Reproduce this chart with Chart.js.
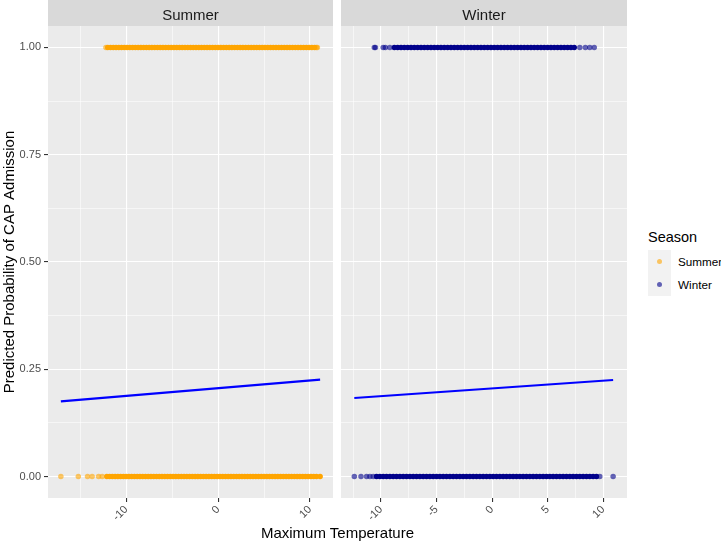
<!DOCTYPE html>
<html>
<head>
<meta charset="utf-8">
<script src="https://cdn.jsdelivr.net/npm/chart.js@4.4.1/dist/chart.umd.min.js"></script>
<style>
    body { margin: 0; background: #fff; font-family: "Liberation Sans", Arial, sans-serif; }
    #wrap { position: relative; width: 721px; height: 543px; overflow: hidden; }
    #wrap canvas { position: absolute; top: 0; }
    #summerChart { left: 0; }
    #winterChart { left: 337px; }
    #xTitle { position: absolute; left: 48px; width: 579px; top: 525px; line-height: 15px; font-size: 15px; text-align: center; color: #000; }
    #legend { position: absolute; left: 648px; top: 229px; color: #000; }
    #legend .title { font-size: 14.5px; line-height: 16px; }
    #legend .keys { position: absolute; left: 0; top: 21px; width: 23px; height: 46px; background: #F2F2F2; }
    #legend .dot { position: absolute; left: 9px; width: 5px; height: 5px; border-radius: 50%; }
    #legend .lab { position: absolute; left: 30px; font-size: 11.7px; line-height: 12px; white-space: nowrap; }
</style>
</head>
<body>
<div id="wrap">
    <canvas id="summerChart" width="338" height="543"></canvas>
    <canvas id="winterChart" width="295" height="543"></canvas>
    <div id="xTitle">Maximum Temperature</div>
    <div id="legend">
        <div class="title">Season</div>
        <div class="keys">
            <div class="dot" style="top:9px;background:rgba(255,165,0,0.6)"></div>
            <div class="dot" style="top:32px;background:rgba(0,0,139,0.6)"></div>
        </div>
        <div class="lab" style="top:27px">Summer</div>
        <div class="lab" style="top:50px">Winter</div>
    </div>
</div>
<script>
// tick positions
var yMajor = [0, 0.25, 0.5, 0.75, 1];
var yMinor = [0.125, 0.375, 0.625, 0.875];
var summerMajor = [-10, 0, 10];
var summerMinor = [-15, -5, 5];
var winterMajor = [-10, -5, 0, 5, 10];
var winterMinor = [-12.5, -7.5, -2.5, 2.5, 7.5];

// Summer: max temperature of observations, no admission (0) / admission (1)
var summerNoSparse = [-17.1, -15.2, -14.2, -13.7, -13.0, -12.6];
var summerNoDense = [-12.1, -11.8, -11.5, -11.2, -10.9, -10.6, -10.3, -10.0, -9.7, -9.4, -9.1, -8.8, -8.5, -8.2, -7.9, -7.6, -7.3, -7.0, -6.7, -6.4, -6.1, -5.8, -5.5, -5.2, -4.9, -4.6, -4.3, -4.0, -3.7, -3.4, -3.1, -2.8, -2.5, -2.2, -1.9, -1.6, -1.3, -1.0, -0.7, -0.4, -0.1, 0.2, 0.5, 0.8, 1.1, 1.4, 1.7, 2.0, 2.3, 2.6, 2.9, 3.2, 3.5, 3.8, 4.1, 4.4, 4.7, 5.0, 5.3, 5.6, 5.9, 6.2, 6.5, 6.8, 7.1, 7.4, 7.7, 8.0, 8.3, 8.6, 8.9, 9.2, 9.5, 9.8, 10.1, 10.4, 10.7, 11.1];
var summerYesSparse = [-12.2, 10.7, 10.8];
var summerYesDense = [-12.0, -11.7, -11.4, -11.1, -10.8, -10.5, -10.2, -9.9, -9.6, -9.3, -9.0, -8.7, -8.4, -8.1, -7.8, -7.5, -7.2, -6.9, -6.6, -6.3, -6.0, -5.7, -5.4, -5.1, -4.8, -4.5, -4.2, -3.9, -3.6, -3.3, -3.0, -2.7, -2.4, -2.1, -1.8, -1.5, -1.2, -0.9, -0.6, -0.3, 0.0, 0.3, 0.6, 0.9, 1.2, 1.5, 1.8, 2.1, 2.4, 2.7, 3.0, 3.3, 3.6, 3.9, 4.2, 4.5, 4.8, 5.1, 5.4, 5.7, 6.0, 6.3, 6.6, 6.9, 7.2, 7.5, 7.8, 8.1, 8.4, 8.7, 9.0, 9.3, 9.6, 9.9, 10.2, 10.5];
var summerFitX = [-17.1, 11.1];
var summerFitY = [0.175, 0.226];

// Winter
var winterNoSparse = [-12.4, -11.8, -11.3, -11.0, -10.7, 9.7, 10.9];
var winterNoDense = [-10.4, -10.1, -9.8, -9.5, -9.2, -8.9, -8.6, -8.3, -8.0, -7.7, -7.4, -7.1, -6.8, -6.5, -6.2, -5.9, -5.6, -5.3, -5.0, -4.7, -4.4, -4.1, -3.8, -3.5, -3.2, -2.9, -2.6, -2.3, -2.0, -1.7, -1.4, -1.1, -0.8, -0.5, -0.2, 0.1, 0.4, 0.7, 1.0, 1.3, 1.6, 1.9, 2.2, 2.5, 2.8, 3.1, 3.4, 3.7, 4.0, 4.3, 4.6, 4.9, 5.2, 5.5, 5.8, 6.1, 6.4, 6.7, 7.0, 7.3, 7.6, 7.9, 8.2, 8.5, 8.8, 9.1, 9.4];
var winterYesSparse = [-10.6, -10.5, -9.8, -9.6, -9.2, 7.9, 8.4, 8.8, 9.2];
var winterYesDense = [-8.8, -8.5, -8.2, -7.9, -7.6, -7.3, -7.0, -6.7, -6.4, -6.1, -5.8, -5.5, -5.2, -4.9, -4.6, -4.3, -4.0, -3.7, -3.4, -3.1, -2.8, -2.5, -2.2, -1.9, -1.6, -1.3, -1.0, -0.7, -0.4, -0.1, 0.2, 0.5, 0.8, 1.1, 1.4, 1.7, 2.0, 2.3, 2.6, 2.9, 3.2, 3.5, 3.8, 4.1, 4.4, 4.7, 5.0, 5.3, 5.6, 5.9, 6.2, 6.5, 6.8, 7.1, 7.4];
var winterFitX = [-12.4, 10.9];
var winterFitY = [0.183, 0.225];

var FONT = '"Liberation Sans", Arial, sans-serif';

function pts(xs, y) {
    return xs.map(function (x) { return { x: x, y: y }; });
}
function fitPts(xs, ys) {
    return xs.map(function (x, i) { return { x: x, y: ys[i] }; });
}

// panel background + facet strip
var panelPlugin = {
    id: 'panel',
    beforeDraw: function (chart, args, opts) {
        var ctx = chart.ctx, a = chart.chartArea;
        ctx.save();
        ctx.fillStyle = '#EBEBEB';
        ctx.fillRect(a.left, a.top, a.right - a.left, a.bottom - a.top);
        ctx.fillStyle = '#D9D9D9';
        ctx.fillRect(a.left, 0, a.right - a.left, a.top);
        ctx.fillStyle = '#1A1A1A';
        ctx.font = '15px ' + FONT;
        ctx.textAlign = 'center';
        ctx.textBaseline = 'alphabetic';
        ctx.fillText(opts.title, (a.left + a.right) / 2, 19.5);
        ctx.restore();
    }
};

function gridOpts(major, withTicks) {
    return {
        color: '#FFFFFF',
        lineWidth: function (c) { return c.tick && major.indexOf(c.tick.value) >= 0 ? 1.1 : 0.55; },
        drawTicks: withTicks,
        tickLength: withTicks ? 4 : 0,
        tickWidth: 1.1,
        tickColor: function (c) { return c.tick && major.indexOf(c.tick.value) >= 0 ? '#333333' : 'rgba(0,0,0,0)'; }
    };
}

function setTicks(major, minor) {
    return function (scale) {
        scale.ticks = major.concat(minor).sort(function (a, b) { return a - b; })
            .map(function (v) { return { value: v }; });
    };
}

function makeChart(id, title, color, sets, xMin, xMax, xMajor, xMinor, isLeft) {
    var datasets = [
        { data: pts(sets.noDense, 0), backgroundColor: 'rgba(' + color + ',1)' },
        { data: pts(sets.noSparse, 0), backgroundColor: 'rgba(' + color + ',0.6)' },
        { data: pts(sets.yesDense, 1), backgroundColor: 'rgba(' + color + ',1)' },
        { data: pts(sets.yesSparse, 1), backgroundColor: 'rgba(' + color + ',0.6)' },
        { data: fitPts(sets.fitX, sets.fitY), showLine: true, borderColor: '#0000FF', borderWidth: 2.2, pointRadius: 0, fill: false }
    ];
    datasets.forEach(function (d) {
        if (d.pointRadius === undefined) { d.pointRadius = 2.75; d.borderWidth = 0; d.pointHoverRadius = 2.75; }
    });

    return new Chart(document.getElementById(id).getContext('2d'), {
        type: 'scatter',
        data: { datasets: datasets },
        plugins: [panelPlugin],
        options: {
            responsive: false,
            animation: false,
            events: [],
            layout: { padding: { top: 26, right: 5, left: isLeft ? 0 : 4, bottom: 0 } },
            plugins: {
                legend: { display: false },
                tooltip: { enabled: false },
                panel: { title: title }
            },
            scales: {
                x: {
                    type: 'linear',
                    min: xMin,
                    max: xMax,
                    afterBuildTicks: setTicks(xMajor, xMinor),
                    afterFit: function (s) { s.height = 45; },
                    grid: gridOpts(xMajor, true),
                    border: { display: false },
                    ticks: {
                        autoSkip: false,
                        minRotation: 45,
                        maxRotation: 45,
                        padding: 1,
                        color: '#4D4D4D',
                        font: { family: FONT, size: 11 },
                        callback: function (v) { return xMajor.indexOf(v) >= 0 ? String(v) : ''; }
                    }
                },
                y: {
                    type: 'linear',
                    min: -0.05,
                    max: 1.05,
                    afterBuildTicks: setTicks(yMajor, yMinor),
                    afterFit: function (s) { s.width = isLeft ? 48 : 0; },
                    grid: gridOpts(yMajor, isLeft),
                    border: { display: false },
                    title: {
                        display: isLeft,
                        text: 'Predicted Probability of CAP Admission',
                        color: '#000000',
                        font: { family: FONT, size: 15 },
                        padding: { top: 1, bottom: 0 }
                    },
                    ticks: {
                        display: isLeft,
                        padding: 3,
                        color: '#4D4D4D',
                        font: { family: FONT, size: 11 },
                        callback: function (v) { return yMajor.indexOf(v) >= 0 ? v.toFixed(2) : ''; }
                    }
                }
            }
        }
    });
}

makeChart('summerChart', 'Summer', '255,165,0', {
    noDense: summerNoDense, noSparse: summerNoSparse,
    yesDense: summerYesDense, yesSparse: summerYesSparse,
    fitX: summerFitX, fitY: summerFitY
}, -18.5, 12.5, summerMajor, summerMinor, true);

makeChart('winterChart', 'Winter', '0,0,139', {
    noDense: winterNoDense, noSparse: winterNoSparse,
    yesDense: winterYesDense, yesSparse: winterYesSparse,
    fitX: winterFitX, fitY: winterFitY
}, -13.6, 12.15, winterMajor, winterMinor, false);
</script>
</body>
</html>
